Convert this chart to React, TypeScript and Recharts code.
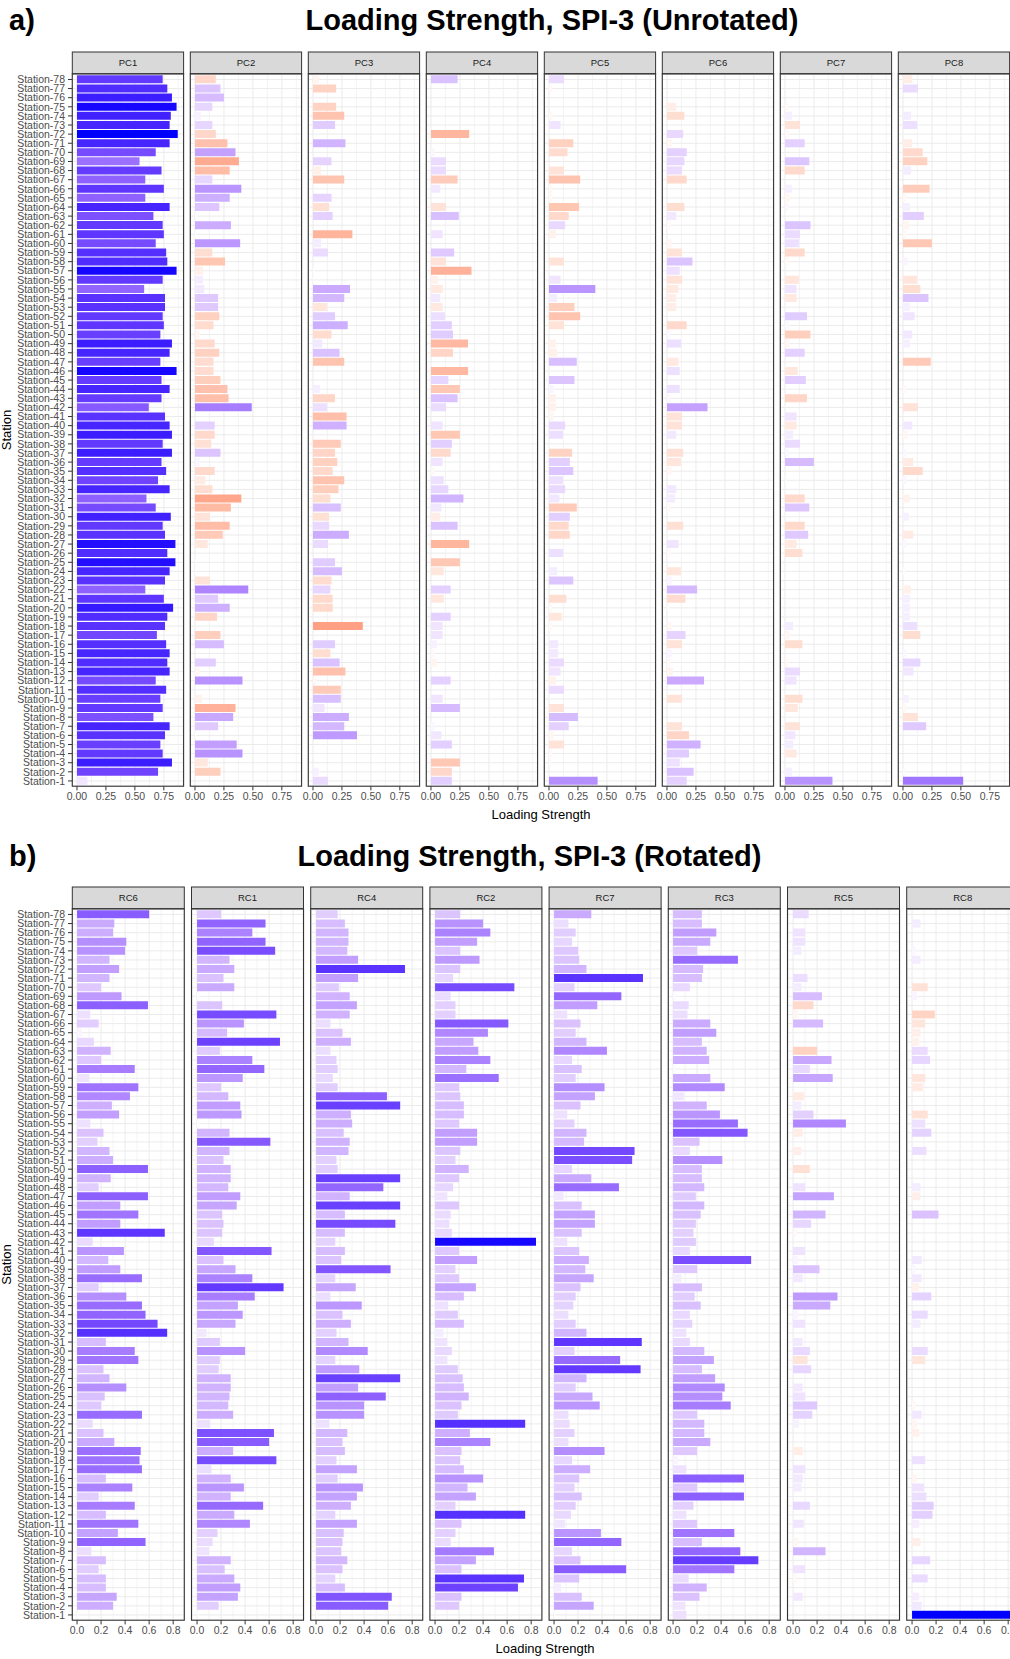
import React from 'react'
import { Bar, BarChart, CartesianGrid, Cell, XAxis, YAxis } from 'recharts'

const stations = Array.from({ length: 78 }, (_, i) => `Station-${78 - i}`)

const unrotatedNames = ['PC1', 'PC2', 'PC3', 'PC4', 'PC5', 'PC6', 'PC7', 'PC8']
const rotatedNames = ['RC6', 'RC1', 'RC4', 'RC2', 'RC7', 'RC3', 'RC5', 'RC8']

const unrotatedTicks = [0, 0.25, 0.5, 0.75]
const unrotatedMinor = [0.125, 0.375, 0.625, 0.875]
const rotatedTicks = [0, 0.2, 0.4, 0.6, 0.8]
const rotatedMinor = [0.1, 0.3, 0.5, 0.7]

// loadings listed from Station-78 (top) down to Station-1; sign drives the colour
const pc1 = [
  0.74, 0.78, 0.82, 0.86, 0.81, 0.8, 0.87, 0.8, 0.68, 0.54,
  0.73, 0.59, 0.75, 0.59, 0.8, 0.66, 0.74, 0.75, 0.68, 0.77,
  0.78, 0.86, 0.74, 0.58, 0.76, 0.76, 0.74, 0.75, 0.72, 0.82,
  0.8, 0.72, 0.86, 0.73, 0.8, 0.73, 0.62, 0.76, 0.8, 0.82,
  0.74, 0.82, 0.73, 0.77, 0.7, 0.8, 0.6, 0.68, 0.81, 0.74,
  0.76, 0.85, 0.78, 0.85, 0.8, 0.76, 0.59, 0.75, 0.83, 0.78,
  0.76, 0.69, 0.77, 0.8, 0.78, 0.8, 0.68, 0.77, 0.72, 0.74,
  0.66, 0.8, 0.76, 0.72, 0.74, 0.82, 0.7, 0.09,
]
const pc2 = [
  -0.18, 0.22, 0.25, 0.15, 0.05, 0.15, -0.18, -0.28, 0.35, -0.38,
  -0.3, 0.15, 0.4, 0.3, 0.21, 0.02, 0.31, 0.01, 0.39, -0.15,
  -0.26, -0.07, 0.07, 0.08, 0.2, 0.2, -0.21, -0.16, -0.04, -0.17,
  -0.21, -0.16, -0.16, -0.22, -0.28, -0.29, 0.49, 0, 0.17, -0.17,
  -0.14, 0.22, 0.04, -0.17, -0.09, -0.15, -0.4, -0.31, -0.13, -0.3,
  -0.24, -0.11, 0, 0.01, -0.01, -0.13, 0.46, 0.2, 0.3, -0.19,
  0, -0.22, 0.25, 0, 0.18, -0.04, 0.41, 0, -0.06, -0.35,
  0.33, 0.2, 0.01, 0.36, 0.41, -0.11, -0.22, 0,
]
const pc3 = [
  -0.05, -0.2, 0, -0.2, -0.27, 0.19, 0, 0.28, 0, 0.16,
  -0.07, -0.27, 0, 0.16, -0.14, 0.17, 0, -0.34, 0.07, 0.13,
  0, 0.01, -0.01, 0.32, 0.27, -0.12, 0.19, 0.3, -0.16, 0.08,
  0.23, -0.27, 0, 0, 0.06, -0.19, 0.12, -0.29, 0.29, 0,
  -0.24, -0.19, -0.21, -0.17, -0.27, -0.22, -0.15, 0.24, -0.14, 0.14,
  0.31, 0.13, 0, 0.19, 0.25, -0.16, 0.15, -0.17, -0.17, 0,
  -0.43, 0, 0.19, -0.15, 0.23, -0.28, -0.03, -0.24, 0.24, 0.1,
  0.31, 0.27, 0.38, 0, 0, 0, 0.05, 0.13,
]
const pc4 = [
  0.23, 0, 0, 0, 0, 0, -0.33, 0, 0.03, 0.13,
  0.13, -0.23, 0.08, 0, -0.13, 0.24, 0, 0.1, 0, 0.2,
  -0.13, -0.35, -0.06, -0.1, 0.08, -0.1, 0.12, 0.18, 0.19, -0.32,
  -0.19, 0, -0.32, 0.15, -0.25, 0.23, 0.13, 0, 0.1, -0.25,
  0.18, -0.17, 0.1, -0.03, 0.11, 0.15, 0.28, 0.09, -0.08, 0.23,
  0, -0.33, 0, -0.25, -0.11, 0, 0.17, -0.11, 0, 0.17,
  0.1, 0.1, 0.05, -0.03, -0.05, 0, 0.17, 0, 0.1, 0.25,
  0, 0.03, 0.09, 0.18, 0, -0.25, -0.18, 0.18,
]
const pc5 = [
  0.13, -0.03, 0, 0, -0.03, 0.1, 0, -0.21, -0.16, 0,
  -0.13, -0.27, -0.03, -0.03, -0.26, -0.17, 0.14, -0.06, 0, 0,
  -0.13, 0, 0.1, 0.4, 0.07, -0.22, -0.27, -0.13, 0, -0.06,
  -0.07, 0.24, 0, 0.22, 0.04, -0.06, -0.06, -0.04, 0.14, 0.12,
  0, -0.2, 0.18, 0.21, 0.12, 0.14, 0.09, -0.24, 0.18, -0.17,
  -0.18, 0, 0.12, 0, 0.07, 0.21, 0, -0.15, -0.03, -0.11,
  -0.03, 0, 0.08, 0.08, 0.13, 0.1, -0.06, 0.13, 0, -0.13,
  0.25, 0.17, -0.04, -0.13, -0.03, 0.02, 0, 0.42,
]
const pc6 = [
  0, 0, 0, -0.08, -0.15, 0, 0.14, -0.04, 0.17, 0.15,
  0.13, -0.17, 0, 0, -0.15, 0.08, -0.03, 0, -0.04, -0.13,
  0.22, 0.11, -0.13, -0.1, -0.08, -0.08, 0, -0.17, 0.03, 0.12,
  0, -0.1, 0.11, 0, 0.11, 0.03, 0.35, -0.13, -0.13, 0.08,
  0, -0.14, -0.12, -0.04, 0, 0.08, 0.07, -0.03, 0, -0.14,
  0, 0.1, -0.03, 0, -0.12, 0.04, 0.26, -0.16, 0.02, 0,
  -0.04, 0.16, -0.13, 0.04, -0.03, -0.05, 0.32, 0, -0.13, 0,
  0, -0.13, -0.19, 0.29, 0.19, 0.11, 0.23, 0.17,
]
const pc7 = [
  0, 0, 0, -0.03, 0.06, -0.13, -0.03, 0.17, 0, 0.21,
  -0.17, 0, 0.06, -0.04, 0.03, 0, 0.22, 0.13, 0.12, -0.17,
  -0.03, 0, -0.12, 0.1, -0.1, 0, 0.19, 0.03, -0.22, -0.04,
  0.17, 0, -0.11, 0.18, 0, -0.19, 0, 0.1, -0.1, 0.07,
  0.13, 0.03, 0.25, 0, 0.02, 0, -0.17, 0.21, 0, -0.17,
  0.2, -0.1, -0.15, 0, 0, 0, 0, 0, 0, 0,
  0.07, -0.04, -0.15, 0, -0.03, 0.13, 0.1, 0, -0.15, -0.11,
  0, -0.13, 0.09, 0.07, -0.1, 0, 0.06, 0.41,
]
const pc8 = [
  -0.08, 0.13, 0, 0, 0.07, 0.12, 0, -0.08, -0.17, -0.21,
  0.07, 0, -0.23, -0.03, 0.06, 0.18, -0.05, -0.03, -0.25, 0,
  0.04, 0, -0.12, -0.15, 0.22, 0.06, 0.1, 0, 0.08, 0.06,
  0, -0.24, 0, 0, -0.03, 0, -0.13, 0, 0.08, -0.04,
  0, 0.03, -0.09, -0.17, 0.03, 0, -0.06, 0, 0.05, 0,
  -0.09, 0.03, 0, 0, -0.02, 0, -0.07, 0.06, 0.06, 0.06,
  0.12, -0.15, 0, 0.03, 0.15, 0.09, 0, 0, 0.05, -0.03,
  -0.13, 0.2, 0, 0, 0, 0, 0.02, 0.52,
]

const rc6 = [
  0.6, 0.31, 0.3, 0.41, 0.4, 0.27, 0.35, 0.27, 0.2, 0.37,
  0.59, 0.11, 0.18, 0.04, 0.14, 0.28, 0.2, 0.48, 0.1, 0.51,
  0.44, 0.29, 0.35, 0.11, 0.22, 0.17, 0.27, 0.3, 0.59, 0.28,
  0.18, 0.59, 0.36, 0.51, 0.36, 0.73, 0.13, 0.39, 0.26, 0.36,
  0.54, 0.18, 0.41, 0.54, 0.57, 0.67, 0.75, 0.24, 0.48, 0.51,
  0.22, 0.27, 0.41, 0.23, 0.2, 0.54, 0.13, 0.22, 0.31, 0.53,
  0.52, 0.54, 0.24, 0.46, 0.18, 0.48, 0.24, 0.51, 0.34, 0.57,
  0.12, 0.24, 0.18, 0.24, 0.24, 0.33, 0.3, 0.01,
]
const rc1 = [
  0.2, 0.57, 0.46, 0.57, 0.65, 0.27, 0.31, 0.22, 0.31, 0.02,
  0.21, 0.66, 0.39, 0.25, 0.69, 0.19, 0.46, 0.56, 0.38, 0.2,
  0.26, 0.36, 0.37, 0.02, 0.27, 0.61, 0.27, 0.22, 0.28, 0.28,
  0.26, 0.36, 0.33, 0.21, 0.22, 0.21, 0.14, 0.62, 0.22, 0.32,
  0.46, 0.72, 0.48, 0.34, 0.38, 0.32, 0.08, 0.19, 0.4, 0.19,
  0.18, 0.28, 0.28, 0.27, 0.26, 0.3, 0.11, 0.64, 0.6, 0.3,
  0.66, 0.12, 0.28, 0.39, 0.28, 0.55, 0.31, 0.44, 0.17, 0.13,
  0.1, 0.28, 0.23, 0.31, 0.36, 0.34, 0.18, 0.01,
]
const rc4 = [
  0.18, 0.24, 0.27, 0.27, 0.26, 0.35, 0.74, 0.35, 0.19, 0.28,
  0.34, 0.28, 0.12, 0.22, 0.29, 0.12, 0.17, 0.18, 0.14, 0.18,
  0.59, 0.7, 0.29, 0.3, 0.23, 0.28, 0.27, 0.17, 0.18, 0.7,
  0.56, 0.28, 0.7, 0.24, 0.66, 0.24, 0.16, 0.24, 0.21, 0.62,
  0.16, 0.33, 0.12, 0.38, 0.22, 0.29, 0.17, 0.27, 0.43, 0.16,
  0.36, 0.7, 0.35, 0.58, 0.4, 0.4, 0.11, 0.26, 0.22, 0.24,
  0.17, 0.34, 0.18, 0.39, 0.34, 0.29, 0.16, 0.34, 0.23, 0.22,
  0.21, 0.26, 0.22, 0.16, 0.24, 0.63, 0.6, 0.01,
]
const rc2 = [
  0.21, 0.4, 0.46, 0.35, 0.21, 0.37, 0.21, 0.15, 0.66, 0.13,
  0.17, 0.17, 0.61, 0.44, 0.32, 0.36, 0.46, 0.26, 0.53, 0.2,
  0.21, 0.24, 0.24, 0.2, 0.35, 0.35, 0.21, 0.17, 0.28, 0.2,
  0.15, 0.1, 0.2, 0.13, 0.12, 0.14, 0.84, 0.2, 0.35, 0.17,
  0.2, 0.34, 0.24, 0.11, 0.19, 0.24, 0.07, 0.1, 0.14, 0.1,
  0.19, 0.23, 0.24, 0.28, 0.22, 0.19, 0.75, 0.29, 0.46, 0.22,
  0.21, 0.24, 0.4, 0.27, 0.34, 0.17, 0.75, 0.22, 0.17, 0.13,
  0.49, 0.34, 0.22, 0.74, 0.69, 0.22, 0.2, 0,
]
const rc7 = [
  0.31, 0.12, 0.18, 0.15, 0.2, 0.21, 0.27, 0.74, 0.17, 0.56,
  0.36, 0.11, 0.22, 0.18, 0.27, 0.44, 0.15, 0.23, 0.18, 0.42,
  0.34, 0.22, 0.11, 0.17, 0.27, 0.25, 0.67, 0.65, 0.15, 0.31,
  0.54, 0.08, 0.23, 0.34, 0.34, 0.23, 0.11, 0.21, 0.29, 0.26,
  0.33, 0.22, 0.18, 0.16, 0.12, 0.18, 0.27, 0.73, 0.17, 0.55,
  0.72, 0.27, 0.18, 0.32, 0.38, 0.12, 0.13, 0.17, 0.12, 0.42,
  0.15, 0.3, 0.21, 0.17, 0.23, 0.18, 0.14, 0.09, 0.39, 0.56,
  0.15, 0.22, 0.6, 0.21, 0.06, 0.23, 0.33, 0.01,
]
const rc3 = [
  0.24, 0.24, 0.36, 0.31, 0.2, 0.54, 0.25, 0.24, 0.14, 0.02,
  0.13, 0.12, 0.31, 0.36, 0.24, 0.28, 0.3, 0.02, 0.31, 0.43,
  0.09, 0.28, 0.39, 0.54, 0.62, 0.22, 0.14, 0.41, 0.24, 0.24,
  0.26, 0.19, 0.26, 0.23, 0.19, 0.17, 0.19, 0.14, 0.65, 0.2,
  0.07, 0.24, 0.18, 0.23, 0.14, 0.16, 0.11, 0.14, 0.26, 0.34,
  0.24, 0.35, 0.43, 0.41, 0.48, 0.2, 0.26, 0.26, 0.31, 0.2,
  0.04, 0.11, 0.59, 0.2, 0.59, 0.17, 0.11, 0.2, 0.51, 0.24,
  0.56, 0.71, 0.51, 0.13, 0.28, 0.22, 0.1, 0.11,
]
const rc5 = [
  0.13, 0, 0.1, 0.1, 0.07, 0, 0, 0.12, 0.07, 0.24,
  -0.17, -0.04, 0.25, 0, 0, -0.2, 0.32, 0.14, 0.33, 0,
  -0.09, 0.07, 0.17, 0.44, -0.08, 0, -0.07, 0, -0.14, 0,
  0.1, 0.34, 0, 0.27, 0.15, -0.03, 0, 0.1, 0.04, 0.22,
  0.08, 0, 0.37, 0.31, 0.04, 0.1, 0, 0.08, 0.14, -0.12,
  0.15, 0, 0.08, 0.1, 0.2, 0.16, 0.05, 0, 0, -0.08,
  0, 0.1, 0.08, 0.07, 0, 0.14, 0, 0.09, 0, -0.04,
  0.27, 0, 0.1, -0.03, 0, 0.08, 0, 0,
]
const rc8 = [
  0, 0.07, 0, 0, 0.03, 0.07, 0, 0, -0.13, 0.04,
  0, -0.19, -0.11, -0.07, -0.06, 0.13, 0.15, 0, -0.11, -0.09,
  0, 0, -0.13, 0.11, 0.16, 0, 0.12, 0, 0, 0,
  0.07, -0.07, 0, 0.22, 0, 0, 0, 0, 0.08, 0.03,
  0.08, -0.06, 0.16, 0, 0.13, 0.07, 0, 0, 0.13, -0.11,
  0, 0, 0, 0, -0.03, 0.08, -0.04, -0.06, 0, 0,
  0.11, 0, -0.04, 0.1, 0.12, 0.18, 0.17, 0.06, 0, -0.07,
  0, 0.15, 0, 0.13, 0, 0.06, 0.08, 0.85,
]

const unrotatedSeries = [pc1, pc2, pc3, pc4, pc5, pc6, pc7, pc8]
const rotatedSeries = [rc6, rc1, rc4, rc2, rc7, rc3, rc5, rc8]

// ggplot-like gradient2 (red - white - blue) interpolated in CIE Lab
function toLin(c: number) {
  const v = c / 255
  return v <= 0.04045 ? v / 12.92 : Math.pow((v + 0.055) / 1.055, 2.4)
}
function fromLin(c: number) {
  const v = c <= 0.0031308 ? 12.92 * c : 1.055 * Math.pow(c, 1 / 2.4) - 0.055
  return Math.round(Math.max(0, Math.min(1, v)) * 255)
}
function toLab(rgb: number[]) {
  const [r, g, b] = rgb.map(toLin)
  const x = (0.4124 * r + 0.3576 * g + 0.1805 * b) / 0.95047
  const y = 0.2126 * r + 0.7152 * g + 0.0722 * b
  const z = (0.0193 * r + 0.1192 * g + 0.9505 * b) / 1.08883
  const f = (t: number) => (t > 0.008856 ? Math.cbrt(t) : 7.787 * t + 16 / 116)
  return [116 * f(y) - 16, 500 * (f(x) - f(y)), 200 * (f(y) - f(z))]
}
function labToHex(lab: number[]) {
  const fy = (lab[0] + 16) / 116
  const fx = fy + lab[1] / 500
  const fz = fy - lab[2] / 200
  const inv = (t: number) => (t * t * t > 0.008856 ? t * t * t : (t - 16 / 116) / 7.787)
  const x = inv(fx) * 0.95047
  const y = inv(fy)
  const z = inv(fz) * 1.08883
  const r = fromLin(3.2406 * x - 1.5372 * y - 0.4986 * z)
  const g = fromLin(-0.9689 * x + 1.8758 * y + 0.0415 * z)
  const b = fromLin(0.0557 * x - 0.204 * y + 1.057 * z)
  return '#' + [r, g, b].map((c) => c.toString(16).padStart(2, '0')).join('')
}
const WHITE = toLab([255, 255, 255])
const BLUE = toLab([0, 0, 255])
const RED = toLab([255, 0, 0])

function fillFor(v: number, maxAbs: number) {
  const t = Math.max(-1, Math.min(1, v / maxAbs))
  const end = t >= 0 ? BLUE : RED
  const k = Math.abs(t)
  return labToHex(WHITE.map((w, i) => w + (end[i] - w) * k))
}

const FONT = '"Liberation Sans", Arial, sans-serif'
const ML = 14
const MR = 14
const MT = 6
const YW = 70
const XH = 24

type PanelSpec = {
  names: string[]
  series: number[][]
  plotTop: number
  plotH: number
  firstLeft: number
  pitch: number
  plotW: number
  domain: [number, number]
  ticks: number[]
  minor: number[]
  maxAbs: number
  digits: number
}

function Facet({ values, left, spec, showY }: { values: number[]; left: number; spec: PanelSpec; showY: boolean }) {
  const data = stations.map((s, i) => ({ station: s, value: Math.abs(values[i]), signed: values[i] }))
  const yw = showY ? YW : 0
  const width = ML + yw + spec.plotW + MR
  const height = MT + spec.plotH + XH
  const [d0, d1] = spec.domain
  const pad = (0.1 * spec.plotH) / 78.2
  const minorGen = (props: any) => {
    const sc = props?.xAxis?.scale
    if (typeof sc === 'function') return spec.minor.map((v) => sc(v))
    return spec.minor.map((v) => ML + yw + ((v - d0) / (d1 - d0)) * spec.plotW)
  }
  return (
    <div style={{ position: 'absolute', left: left - ML - yw, top: spec.plotTop - MT }}>
      <BarChart
        width={width}
        height={height}
        data={data}
        layout="vertical"
        margin={{ top: MT, right: MR, bottom: 0, left: ML }}
        barCategoryGap="5%"
      >
        <CartesianGrid stroke="#ECECEC" strokeWidth={0.6} horizontal={false} verticalCoordinatesGenerator={minorGen} />
        <CartesianGrid stroke="#EBEBEB" strokeWidth={1} />
        <XAxis
          type="number"
          domain={spec.domain}
          ticks={spec.ticks}
          interval={0}
          allowDataOverflow
          height={XH}
          axisLine={false}
          tickSize={4}
          tickLine={{ stroke: '#333333' }}
          tick={{ fontSize: 10.5, fill: '#4D4D4D' }}
          tickFormatter={(v: number) => v.toFixed(spec.digits)}
        />
        <YAxis
          type="category"
          dataKey="station"
          width={yw}
          hide={!showY}
          interval={0}
          axisLine={false}
          tickSize={4}
          tickMargin={3}
          tickLine={{ stroke: '#333333' }}
          tick={{ fontSize: 10.5, fill: '#4D4D4D' }}
          padding={{ top: pad, bottom: pad }}
        />
        <Bar dataKey="value" isAnimationActive={false}>
          {data.map((d, i) => (
            <Cell key={i} fill={fillFor(d.signed, spec.maxAbs)} />
          ))}
        </Bar>
      </BarChart>
    </div>
  )
}

function Decorations({ spec }: { spec: PanelSpec }) {
  const stripH = 21.8
  return (
    <g>
      {spec.names.map((n, i) => {
        const x = spec.firstLeft + spec.pitch * i
        return (
          <g key={n}>
            <rect x={x} y={spec.plotTop - stripH} width={spec.plotW} height={stripH} fill="#D9D9D9" stroke="#333333" strokeWidth={1} />
            <text x={x + spec.plotW / 2} y={spec.plotTop - stripH / 2 + 3.4} textAnchor="middle" fontSize={9.5} fill="#1A1A1A">
              {n}
            </text>
            <rect x={x} y={spec.plotTop} width={spec.plotW} height={spec.plotH} fill="none" stroke="#333333" strokeWidth={1.1} />
          </g>
        )
      })}
    </g>
  )
}

const panelA: PanelSpec = {
  names: unrotatedNames,
  series: unrotatedSeries,
  plotTop: 73.8,
  plotH: 712.4,
  firstLeft: 72.3,
  pitch: 118,
  plotW: 111.3,
  domain: [-0.043, 0.918],
  ticks: unrotatedTicks,
  minor: unrotatedMinor,
  maxAbs: 0.87,
  digits: 2,
}

const panelB: PanelSpec = {
  names: rotatedNames,
  series: rotatedSeries,
  plotTop: 908.8,
  plotH: 711.4,
  firstLeft: 72.3,
  pitch: 119.2,
  plotW: 112,
  domain: [-0.042, 0.89],
  ticks: rotatedTicks,
  minor: rotatedMinor,
  maxAbs: 0.85,
  digits: 1,
}

export default function App() {
  return (
    <div
      style={{
        position: 'absolute',
        left: 0,
        top: 0,
        width: 1010,
        height: 1659,
        overflow: 'hidden',
        background: '#ffffff',
        fontFamily: FONT,
      }}
    >
      {[panelA, panelB].map((spec, p) =>
        spec.series.map((values, i) => (
          <Facet key={`${p}-${i}`} values={values} left={spec.firstLeft + spec.pitch * i} spec={spec} showY={i === 0} />
        )),
      )}
      <svg width={1010} height={1659} style={{ position: 'absolute', left: 0, top: 0, pointerEvents: 'none' }} fontFamily={FONT}>
        <Decorations spec={panelA} />
        <Decorations spec={panelB} />
        <text x={9} y={29.5} fontSize={29} fontWeight="bold" fill="#000">a)</text>
        <text x={552} y={29.5} fontSize={29} fontWeight="bold" fill="#000" textAnchor="middle">
          Loading Strength, SPI-3 (Unrotated)
        </text>
        <text x={9} y={866} fontSize={29} fontWeight="bold" fill="#000">b)</text>
        <text x={529.5} y={866} fontSize={29} fontWeight="bold" fill="#000" textAnchor="middle">
          Loading Strength, SPI-3 (Rotated)
        </text>
        <text x={541} y={819} fontSize={13} fill="#000" textAnchor="middle">Loading Strength</text>
        <text x={545} y={1653} fontSize={13} fill="#000" textAnchor="middle">Loading Strength</text>
        <text x={10.5} y={430} fontSize={13} fill="#000" textAnchor="middle" transform="rotate(-90 10.5 430)">Station</text>
        <text x={10.5} y={1264.5} fontSize={13} fill="#000" textAnchor="middle" transform="rotate(-90 10.5 1264.5)">Station</text>
      </svg>
    </div>
  )
}
